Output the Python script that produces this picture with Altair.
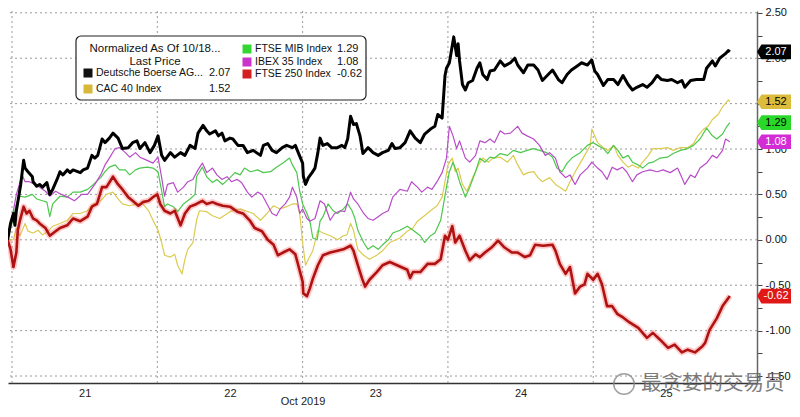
import altair as alt
import pandas as pd

# ---------------- data ----------------
series_names = ["Deutsche Boerse AG", "CAC 40 Index", "FTSE MIB Index", "IBEX 35 Index", "FTSE 250 Index"]
legend_names = ["Deutsche Boerse AG...", "CAC 40 Index", "FTSE MIB Index", "IBEX 35 Index", "FTSE 250 Index"]
last_values = [2.07, 1.52, 1.29, 1.08, -0.62]
legend_title = ["Normalized As Of 10/18...", "Last Price"]
day_labels = ["21", "22", "23", "24", "25"]
day_centers = [0.5, 1.5, 2.5, 3.5, 4.5]
day_bounds = [0, 1, 2, 3, 4]
axis_title = "Oct 2019"
y_ticks = [-1.5, -1.25, -1.0, -0.75, -0.5, -0.25, 0.0, 0.25, 0.5, 0.75, 1.0, 1.25, 1.5, 1.75, 2.0, 2.25, 2.5]
y_grid = [-1.5, -1.0, -0.5, 0.0, 0.5, 1.0, 1.5, 2.0, 2.5]
watermark = "最贪婪的交易员"

# (time in trading days from Oct 21, normalized value)
deutsche_boerse = [(-0.03,0.00),(-0.01,0.18),(0.01,0.29),(0.02,0.16),(0.03,0.32),(0.06,0.61),(0.08,0.875),(0.09,0.79),(0.11,0.75),(0.14,0.695),(0.145,0.64),(0.17,0.59),(0.19,0.61),(0.21,0.58),(0.24,0.63),(0.26,0.50),(0.28,0.555),(0.31,0.665),(0.33,0.75),(0.35,0.715),(0.38,0.77),(0.40,0.74),(0.42,0.77),(0.47,0.74),(0.49,0.77),(0.52,0.79),(0.55,0.93),(0.57,0.90),(0.59,0.93),(0.62,1.11),(0.64,1.07),(0.67,1.12),(0.695,1.175),(0.73,1.12),(0.76,1.005),(0.80,1.015),(0.83,1.07),(0.86,1.09),(0.88,1.005),(0.915,1.07),(0.95,0.96),(0.98,1.04),(1.005,1.145),(1.03,0.93),(1.05,0.875),(1.09,0.96),(1.12,0.91),(1.16,0.96),(1.19,0.93),(1.225,1.04),(1.26,1.005),(1.28,1.175),(1.315,1.26),(1.34,1.20),(1.36,1.165),(1.40,1.20),(1.42,1.145),(1.445,1.175),(1.465,1.09),(1.50,1.12),(1.52,1.11),(1.555,1.04),(1.59,1.04),(1.62,0.96),(1.66,0.985),(1.71,0.93),(1.73,1.04),(1.76,1.06),(1.79,0.985),(1.82,0.96),(1.86,1.015),(1.89,1.04),(1.93,1.015),(1.95,1.04),(1.97,0.96),(2.00,0.845),(2.005,0.70),(2.02,0.61),(2.04,0.685),(2.065,0.74),(2.085,0.79),(2.105,0.96),(2.12,1.12),(2.14,1.04),(2.17,1.06),(2.20,1.015),(2.24,1.015),(2.27,1.04),(2.29,1.015),(2.31,1.11),(2.33,1.36),(2.35,1.27),(2.37,1.28),(2.395,1.145),(2.415,0.95),(2.45,1.015),(2.485,0.96),(2.52,0.93),(2.55,0.96),(2.59,0.985),(2.615,1.06),(2.635,1.005),(2.67,1.015),(2.705,1.07),(2.74,1.20),(2.775,1.12),(2.81,1.07),(2.84,1.165),(2.88,1.22),(2.91,1.25),(2.93,1.38),(2.96,1.34),(2.98,1.81),(2.99,1.89),(3.01,1.95),(3.03,2.14),(3.04,2.235),(3.06,2.03),(3.07,2.16),(3.08,1.97),(3.10,1.71),(3.12,1.65),(3.14,1.73),(3.17,1.755),(3.20,1.89),(3.22,1.95),(3.24,1.82),(3.27,1.765),(3.29,1.86),(3.32,1.87),(3.36,1.97),(3.39,1.915),(3.43,1.95),(3.46,2.00),(3.48,1.925),(3.52,1.84),(3.55,1.925),(3.59,1.925),(3.62,1.87),(3.65,1.755),(3.69,1.82),(3.72,1.87),(3.76,1.765),(3.785,1.73),(3.82,1.82),(3.85,1.87),(3.89,1.915),(3.92,1.95),(3.96,1.925),(3.99,1.98),(4.01,1.86),(4.03,1.82),(4.07,1.70),(4.10,1.765),(4.14,1.765),(4.17,1.71),(4.205,1.81),(4.24,1.71),(4.27,1.65),(4.30,1.68),(4.34,1.71),(4.37,1.68),(4.405,1.73),(4.44,1.81),(4.47,1.765),(4.51,1.755),(4.54,1.765),(4.58,1.73),(4.61,1.755),(4.63,1.68),(4.67,1.755),(4.71,1.765),(4.76,1.765),(4.78,1.89),(4.82,1.97),(4.84,1.915),(4.87,2.00),(4.91,2.05),(4.93,2.085),(4.94,2.07)]

cac40 = [(-0.03,0.00),(0.01,0.00),(0.03,0.13),(0.055,0.045),(0.09,0.18),(0.11,0.095),(0.145,0.075),(0.18,0.105),(0.21,0.055),(0.25,0.095),(0.28,0.15),(0.33,0.18),(0.38,0.215),(0.42,0.29),(0.47,0.29),(0.52,0.32),(0.56,0.395),(0.61,0.43),(0.65,0.50),(0.695,0.525),(0.73,0.45),(0.76,0.395),(0.81,0.375),(0.86,0.395),(0.90,0.395),(0.94,0.32),(0.97,0.215),(1.005,0.105),(1.03,-0.03),(1.05,-0.17),(1.09,-0.19),(1.12,-0.16),(1.14,-0.28),(1.17,-0.375),(1.19,-0.215),(1.21,-0.105),(1.245,-0.03),(1.27,0.215),(1.29,0.32),(1.34,0.31),(1.38,0.265),(1.43,0.235),(1.50,0.31),(1.57,0.34),(1.66,0.29),(1.71,0.215),(1.755,0.29),(1.80,0.375),(1.845,0.34),(1.89,0.365),(1.93,0.395),(1.96,0.395),(1.98,0.29),(2.00,-0.03),(2.02,-0.28),(2.04,-0.215),(2.07,-0.12),(2.105,0.105),(2.14,0.075),(2.19,0.045),(2.24,0.00),(2.28,0.045),(2.305,0.055),(2.33,0.18),(2.35,0.105),(2.38,-0.105),(2.42,-0.17),(2.46,-0.215),(2.51,-0.17),(2.55,-0.12),(2.60,-0.03),(2.67,0.02),(2.72,0.095),(2.76,0.13),(2.79,0.205),(2.83,0.255),(2.88,0.32),(2.925,0.375),(2.96,0.47),(2.98,0.64),(3.00,0.825),(3.03,0.90),(3.05,0.75),(3.07,0.79),(3.10,0.61),(3.13,0.535),(3.17,0.685),(3.21,0.825),(3.24,0.90),(3.28,0.855),(3.31,0.90),(3.36,0.91),(3.41,0.855),(3.45,0.93),(3.48,0.825),(3.52,0.715),(3.55,0.74),(3.59,0.75),(3.62,0.685),(3.65,0.64),(3.70,0.685),(3.74,0.61),(3.77,0.58),(3.81,0.535),(3.84,0.64),(3.89,0.79),(3.93,0.90),(3.98,1.04),(3.99,1.22),(4.01,1.145),(4.03,1.07),(4.07,1.015),(4.10,0.985),(4.14,1.04),(4.17,0.93),(4.205,0.855),(4.24,0.80),(4.27,0.825),(4.31,0.79),(4.34,0.855),(4.38,0.93),(4.41,1.005),(4.46,1.005),(4.51,1.015),(4.55,0.985),(4.60,1.015),(4.65,1.015),(4.69,1.06),(4.72,1.145),(4.76,1.22),(4.79,1.25),(4.82,1.325),(4.86,1.38),(4.89,1.465),(4.93,1.54),(4.94,1.52)]

ftse_mib = [(-0.03,0.00),(0.00,0.18),(0.03,0.395),(0.055,0.48),(0.09,0.47),(0.14,0.50),(0.17,0.45),(0.21,0.43),(0.24,0.415),(0.26,0.255),(0.28,0.395),(0.33,0.48),(0.38,0.47),(0.42,0.525),(0.47,0.525),(0.52,0.555),(0.56,0.61),(0.61,0.685),(0.64,0.75),(0.67,0.80),(0.71,0.825),(0.74,0.77),(0.78,0.77),(0.81,0.715),(0.85,0.77),(0.88,0.79),(0.93,0.80),(0.97,0.79),(1.005,0.75),(1.03,0.535),(1.05,0.365),(1.07,0.395),(1.11,0.365),(1.14,0.31),(1.18,0.395),(1.225,0.45),(1.26,0.50),(1.27,0.695),(1.31,0.80),(1.34,0.695),(1.38,0.63),(1.41,0.665),(1.45,0.61),(1.50,0.685),(1.535,0.74),(1.57,0.715),(1.60,0.79),(1.64,0.75),(1.69,0.77),(1.73,0.74),(1.78,0.75),(1.82,0.80),(1.865,0.845),(1.91,0.90),(1.93,0.825),(1.96,0.74),(1.98,0.535),(2.00,0.395),(2.03,0.29),(2.05,0.205),(2.07,0.02),(2.10,0.00),(2.12,0.205),(2.14,0.255),(2.175,0.395),(2.21,0.32),(2.24,0.29),(2.28,0.34),(2.31,0.395),(2.34,0.32),(2.36,0.235),(2.38,0.105),(2.42,-0.03),(2.45,-0.105),(2.485,-0.065),(2.52,-0.105),(2.55,-0.055),(2.59,0.00),(2.62,0.075),(2.67,0.105),(2.72,0.15),(2.76,0.105),(2.81,0.045),(2.84,-0.03),(2.88,0.045),(2.91,0.075),(2.95,0.215),(2.97,0.395),(2.99,0.58),(3.01,0.75),(3.035,0.855),(3.06,0.75),(3.08,0.64),(3.12,0.47),(3.15,0.58),(3.19,0.75),(3.22,0.90),(3.255,0.855),(3.29,0.91),(3.32,0.90),(3.36,0.95),(3.41,0.93),(3.45,0.985),(3.50,0.96),(3.545,0.985),(3.59,1.005),(3.63,0.985),(3.68,0.96),(3.72,0.91),(3.75,0.79),(3.785,0.75),(3.82,0.845),(3.86,0.91),(3.91,0.96),(3.96,1.04),(4.00,1.07),(4.03,1.04),(4.07,1.005),(4.10,0.95),(4.14,1.04),(4.17,0.985),(4.205,0.90),(4.24,0.93),(4.27,0.855),(4.31,0.825),(4.34,0.79),(4.38,0.845),(4.41,0.855),(4.46,0.90),(4.51,0.91),(4.55,0.95),(4.60,0.985),(4.65,1.005),(4.69,1.04),(4.735,1.11),(4.78,1.23),(4.82,1.145),(4.85,1.11),(4.89,1.165),(4.92,1.25),(4.94,1.29)]

ibex35 = [(-0.03,0.00),(0.00,0.235),(0.03,0.50),(0.07,0.715),(0.09,0.64),(0.12,0.64),(0.16,0.61),(0.19,0.58),(0.23,0.535),(0.26,0.48),(0.30,0.535),(0.34,0.50),(0.385,0.47),(0.43,0.43),(0.48,0.50),(0.52,0.50),(0.57,0.61),(0.61,0.715),(0.64,0.825),(0.67,0.90),(0.71,1.005),(0.74,1.015),(0.78,0.96),(0.81,0.91),(0.85,0.96),(0.88,0.91),(0.93,0.875),(0.97,0.845),(1.005,0.91),(1.03,0.685),(1.05,0.48),(1.07,0.61),(1.11,0.63),(1.14,0.525),(1.18,0.58),(1.21,0.64),(1.245,0.665),(1.28,0.77),(1.31,0.845),(1.34,0.74),(1.38,0.79),(1.41,0.715),(1.445,0.665),(1.48,0.695),(1.51,0.64),(1.55,0.665),(1.58,0.63),(1.62,0.525),(1.65,0.47),(1.69,0.525),(1.72,0.50),(1.755,0.395),(1.79,0.29),(1.82,0.265),(1.845,0.34),(1.88,0.395),(1.91,0.47),(1.93,0.58),(1.96,0.47),(1.98,0.29),(2.00,0.34),(2.03,0.235),(2.05,0.205),(2.085,0.235),(2.12,0.43),(2.15,0.395),(2.19,0.215),(2.22,0.29),(2.26,0.32),(2.29,0.31),(2.33,0.525),(2.35,0.45),(2.38,0.395),(2.42,0.29),(2.45,0.235),(2.485,0.215),(2.52,0.255),(2.55,0.29),(2.59,0.32),(2.62,0.47),(2.67,0.555),(2.72,0.535),(2.75,0.64),(2.79,0.58),(2.82,0.525),(2.86,0.58),(2.89,0.555),(2.925,0.64),(2.96,0.74),(2.99,0.90),(3.01,1.25),(3.035,1.145),(3.06,1.005),(3.08,1.09),(3.12,0.90),(3.15,0.855),(3.19,0.93),(3.22,1.09),(3.255,1.07),(3.29,1.11),(3.32,1.07),(3.36,1.20),(3.39,1.165),(3.43,1.175),(3.48,1.25),(3.51,1.175),(3.545,1.145),(3.59,1.11),(3.63,1.04),(3.67,0.93),(3.70,0.96),(3.74,0.90),(3.77,0.75),(3.81,0.685),(3.84,0.715),(3.875,0.61),(3.91,0.715),(3.96,0.79),(3.99,0.855),(4.03,0.79),(4.06,0.75),(4.095,0.665),(4.13,0.80),(4.165,0.77),(4.20,0.80),(4.23,0.75),(4.27,0.64),(4.30,0.715),(4.34,0.75),(4.39,0.77),(4.44,0.75),(4.48,0.77),(4.53,0.74),(4.58,0.79),(4.61,0.685),(4.63,0.61),(4.67,0.715),(4.70,0.685),(4.735,0.79),(4.78,0.845),(4.82,0.93),(4.85,0.90),(4.89,0.985),(4.91,1.11),(4.94,1.08)]

ftse250 = [(-0.03,0.00),(-0.01,-0.105),(0.01,-0.30),(0.03,-0.14),(0.04,0.105),(0.055,0.215),(0.08,0.365),(0.10,0.29),(0.12,0.32),(0.145,0.235),(0.17,0.215),(0.19,0.18),(0.23,0.13),(0.26,0.045),(0.30,0.095),(0.33,0.13),(0.38,0.16),(0.42,0.235),(0.47,0.205),(0.52,0.255),(0.55,0.365),(0.585,0.395),(0.62,0.58),(0.65,0.58),(0.695,0.695),(0.73,0.61),(0.76,0.555),(0.80,0.47),(0.83,0.43),(0.87,0.375),(0.90,0.415),(0.94,0.43),(0.97,0.47),(1.00,0.50),(1.02,0.395),(1.05,0.32),(1.09,0.29),(1.12,0.32),(1.16,0.16),(1.19,0.29),(1.225,0.365),(1.27,0.395),(1.31,0.43),(1.34,0.395),(1.38,0.415),(1.41,0.395),(1.45,0.375),(1.50,0.365),(1.55,0.31),(1.59,0.29),(1.64,0.205),(1.67,0.13),(1.72,0.095),(1.76,0.00),(1.80,-0.055),(1.83,-0.17),(1.865,-0.14),(1.91,-0.105),(1.95,-0.16),(1.97,-0.28),(2.00,-0.46),(2.005,-0.59),(2.03,-0.62),(2.05,-0.535),(2.07,-0.43),(2.105,-0.28),(2.14,-0.17),(2.19,-0.14),(2.24,-0.12),(2.28,-0.105),(2.33,-0.065),(2.35,-0.12),(2.38,-0.28),(2.41,-0.43),(2.43,-0.515),(2.46,-0.44),(2.51,-0.355),(2.55,-0.28),(2.60,-0.245),(2.65,-0.28),(2.72,-0.33),(2.74,-0.42),(2.76,-0.355),(2.81,-0.355),(2.86,-0.265),(2.91,-0.265),(2.95,-0.215),(2.98,0.045),(3.00,0.00),(3.03,0.15),(3.05,-0.03),(3.08,0.045),(3.12,-0.12),(3.15,-0.225),(3.19,-0.16),(3.22,-0.19),(3.255,-0.14),(3.30,-0.085),(3.345,-0.01),(3.39,-0.085),(3.44,-0.14),(3.48,-0.14),(3.53,-0.19),(3.565,-0.17),(3.60,-0.055),(3.655,-0.065),(3.72,-0.055),(3.74,-0.12),(3.77,-0.265),(3.81,-0.375),(3.84,-0.30),(3.875,-0.59),(3.91,-0.515),(3.94,-0.49),(3.96,-0.375),(4.00,-0.44),(4.03,-0.375),(4.06,-0.49),(4.095,-0.73),(4.13,-0.73),(4.165,-0.815),(4.205,-0.855),(4.25,-0.91),(4.31,-0.97),(4.37,-1.08),(4.41,-1.025),(4.46,-1.10),(4.515,-1.19),(4.56,-1.155),(4.61,-1.24),(4.65,-1.21),(4.70,-1.24),(4.75,-1.175),(4.77,-1.135),(4.80,-0.995),(4.85,-0.865),(4.89,-0.73),(4.94,-0.62)]

# ---------------- styles ----------------
W, H = 749, 372
X_DOMAIN = [-0.0275, 5.127]
Y_DOMAIN = [-1.577, 2.52]
FONT = "Liberation Sans"
line_colors = ["#000000", "#dccb50", "#4cc84c", "#b84cc8", "#b01212"]
line_widths = [3.0, 1.2, 1.2, 1.2, 2.6]
legend_colors = ["#111111", "#d8b838", "#33d633", "#cc33cc", "#d42020"]
tag_colors = ["#000000", "#dcbc3c", "#2ad82a", "#d42cd4", "#e01818"]
tag_text_colors = ["#ffffff", "#000000", "#000000", "#ffffff", "#ffffff"]

x_labels_expr = "[" + ",".join("'%s'" % s for s in day_labels) + "][floor(datum.value)]"

x_axis = alt.Axis(
    values=day_centers, labelExpr=x_labels_expr, ticks=False, grid=False,
    domain=True, domainColor="#333333", domainWidth=1.5,
    labelFont=FONT, labelFontSize=11, labelColor="#222222", labelPadding=4,
    labelOverlap=False, labelFlush=False,
    title=axis_title, titleFont=FONT, titleFontSize=11, titleFontWeight="normal",
    titleColor="#222222",
    titleX=(2 - X_DOMAIN[0]) / (X_DOMAIN[1] - X_DOMAIN[0]) * W,
    titleY=12, titleAlign="center", titleBaseline="top",
)
y_axis = alt.Axis(
    orient="right", values=y_ticks,
    labelExpr="datum.value % 0.5 == 0 ? replace(format(datum.value, '.2f'), '\u2212', '-') : ''",
    grid=False, domain=True, domainColor="#666666", domainWidth=1.5,
    ticks=True, tickSize=5, tickColor="#444444", tickWidth=1,
    labelFont=FONT, labelFontSize=11, labelColor="#111111", labelPadding=3,
    labelOverlap=False, labelBaseline="middle", title=None,
)

X = alt.X("t:Q", scale=alt.Scale(domain=X_DOMAIN, nice=False, zero=False), axis=x_axis)
Y = alt.Y("v:Q", scale=alt.Scale(domain=Y_DOMAIN, nice=False, zero=False), axis=y_axis)

one = pd.DataFrame({"a": [0]})

layers = []

# grid lines
layers.append(
    alt.Chart(pd.DataFrame({"v": y_grid})).mark_rule(color="#9a9a9a", strokeDash=[2, 3], strokeWidth=1)
    .encode(y=Y)
)
layers.append(
    alt.Chart(pd.DataFrame({"t": day_bounds})).mark_rule(color="#9a9a9a", strokeDash=[2, 3], strokeWidth=1)
    .encode(x=X)
)

# series lines (thin first, thick on top)
series_data = [deutsche_boerse, cac40, ftse_mib, ibex35, ftse250]
draw_order = [1, 2, 3, 4, 0]
for i in draw_order:
    df = pd.DataFrame(series_data[i], columns=["t", "v"])
    if i == 4:
        layers.append(
            alt.Chart(df).mark_line(color="#ff4040", strokeWidth=6, opacity=0.28, strokeJoin="round")
            .encode(x=X, y=Y)
        )
    layers.append(
        alt.Chart(df).mark_line(color=line_colors[i], strokeWidth=line_widths[i], strokeJoin="round")
        .encode(x=X, y=Y)
    )

# last-value tags on the right axis
tag_df = pd.DataFrame({
    "v": last_values,
    "label": ["%.2f" % v for v in last_values],
    "fill": tag_colors,
    "tc": tag_text_colors,
})
tag_shape = "M-1,0 L-0.74,-0.43 L1,-0.43 L1,0.43 L-0.74,0.43 Z"
layers.append(
    alt.Chart(tag_df).mark_point(shape=tag_shape, filled=True, size=1156, opacity=1, strokeWidth=0)
    .encode(x=alt.value(W + 17), y=Y, fill=alt.Fill("fill:N", scale=None), color=alt.Color("fill:N", scale=None))
)
layers.append(
    alt.Chart(tag_df).mark_text(font=FONT, fontSize=11, align="center", baseline="middle")
    .encode(x=alt.value(W + 19), y=Y, text="label:N", color=alt.Color("tc:N", scale=None))
)

# legend box
layers.append(
    alt.Chart(one).mark_rect(fill="white", stroke="#222222", strokeWidth=1.2, cornerRadius=5)
    .encode(x=alt.value(68), x2=alt.value(358), y=alt.value(25), y2=alt.value(89))
)
for k, line in enumerate(legend_title):
    layers.append(
        alt.Chart(pd.DataFrame({"s": [line]})).mark_text(font=FONT, fontSize=11.5, align="center", baseline="middle", color="#111111")
        .encode(x=alt.value(147), y=alt.value(38 + 13 * k), text="s:N")
    )
legend_pos = [(80, 62), (80, 78), (239, 38), (239, 51), (239, 63)]
value_x = [201, 201, 329, 329, 329]
for i in range(5):
    sx, sy = legend_pos[i]
    layers.append(
        alt.Chart(one).mark_square(size=81, color=legend_colors[i], opacity=1)
        .encode(x=alt.value(sx), y=alt.value(sy))
    )
    layers.append(
        alt.Chart(pd.DataFrame({"s": [legend_names[i]]})).mark_text(font=FONT, fontSize=10.5, align="left", baseline="middle", color="#111111")
        .encode(x=alt.value(sx + 8), y=alt.value(sy), text="s:N")
    )
    layers.append(
        alt.Chart(pd.DataFrame({"s": ["%.2f" % last_values[i]]})).mark_text(font=FONT, fontSize=11, align="left", baseline="middle", color="#111111")
        .encode(x=alt.value(value_x[i]), y=alt.value(sy), text="s:N")
    )

# watermark
layers.append(
    alt.Chart(one).mark_point(shape="circle", size=420, filled=False, color="#888888", strokeWidth=1.5, opacity=0.8)
    .encode(x=alt.value(616), y=alt.value(373))
)
layers.append(
    alt.Chart(pd.DataFrame({"s": [watermark]})).mark_text(font="Noto Sans CJK SC", fontSize=20.5, align="left", baseline="middle", color="#666666", opacity=0.85)
    .encode(x=alt.value(633), y=alt.value(373), text="s:N")
)

chart = alt.layer(*layers).properties(
    width=W, height=H,
    autosize=alt.AutoSizeParams(type="none"),
    padding={"left": 0, "top": 3, "right": 35, "bottom": 26},
    background="white",
).configure_view(stroke=None)

chart.save("out.html", embed_options={"renderer": "svg", "actions": False})
